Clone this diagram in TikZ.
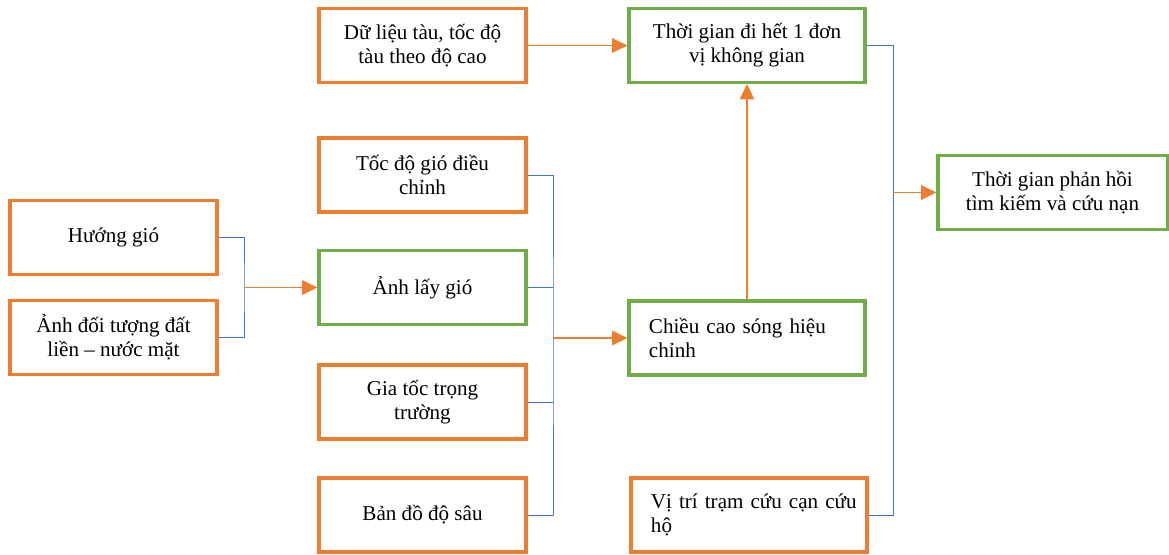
\documentclass[tikz,border=0pt]{standalone}
\usepackage{fontspec}
\setmainfont{Liberation Serif}
\usetikzlibrary{arrows.meta}
\definecolor{cam}{HTML}{ED7D31}
\definecolor{xanhla}{HTML}{70AD47}
\definecolor{xanhduong}{HTML}{4472C4}
\newcommand{\lui}{\hspace*{0.3cm}}

\begin{document}
\begin{tikzpicture}[x=0.025cm,y=-0.025cm,
		font=\fontsize{15}{17}\selectfont,
		hop/.style={draw,line width=2.2pt,align=center,inner sep=2mm,minimum height=1.85cm},
		dau/.style={hop,draw=cam,minimum width=5.175cm},
		ket/.style={hop,draw=xanhla},
		trai/.style={minimum width=5.9cm,text width=5.5cm,align=left},
		lien/.style={draw=xanhduong,line width=0.7pt},
		mui/.style={draw=cam,line width=1pt,-{Triangle[length=0.38cm,width=0.36cm]},cam}]
	\useasboundingbox (0,0) rectangle (1169,554);
	% cot trai
	\node[dau] (huong) at (113.5,237.5) {Hướng gió};
	\node[dau] (anhdt) at (113.5,337.5) {Ảnh đối tượng đất\\liền – nước mặt};
	% cot giua
	\node[dau] (dulieu) at (422.5,45.5) {Dữ liệu tàu, tốc độ\\tàu theo độ cao};
	\node[dau] (tocdo) at (422.5,175) {Tốc độ gió điều\\chỉnh};
	\node[ket,minimum width=5.175cm] (anhlay) at (422.5,287.5) {Ảnh lấy gió};
	\node[dau] (giatoc) at (422.5,402) {Gia tốc trọng\\trường};
	\node[dau] (bando) at (422.5,515) {Bản đồ độ sâu};
	% cot phai
	\node[ket,minimum width=5.9cm] (thoigian) at (747,45.5) {Thời gian đi hết 1 đơn\\vị không gian};
	\node[ket,trai] (chieucao) at (747,338) {\lui Chiều cao sóng hiệu\\\lui chỉnh};
	\node[dau,trai] (vitri) at (749,515) {\lui Vị trí trạm cứu cạn cứu\\\lui hộ};
	\node[ket,minimum width=5.725cm] (phanhoi) at (1052.5,192.5) {Thời gian phản hồi\\tìm kiếm và cứu nạn};

	\coordinate (m1) at (244,287.5);
	\coordinate (m2) at (553,338);
	\coordinate (m3) at (893,192.5);

	\draw[lien] (huong.east) -| (m1) |- (anhdt.east);
	\draw[mui] (m1) -- (anhlay.west);
	\draw[lien] (tocdo.east) -| (m2) |- (bando.east);
	\draw[lien] (anhlay.east) -- (anhlay.east -| m2);
	\draw[lien] (giatoc.east) -- (giatoc.east -| m2);
	\draw[mui] (m2) -- (chieucao.west);
	\draw[mui] (dulieu.east) -- (thoigian.west);
	\draw[mui] (chieucao.north) -- (thoigian.south);
	\draw[lien] (thoigian.east) -| (m3) |- (vitri.east);
	\draw[mui] (m3) -- (phanhoi.west);
\end{tikzpicture}
\end{document}
